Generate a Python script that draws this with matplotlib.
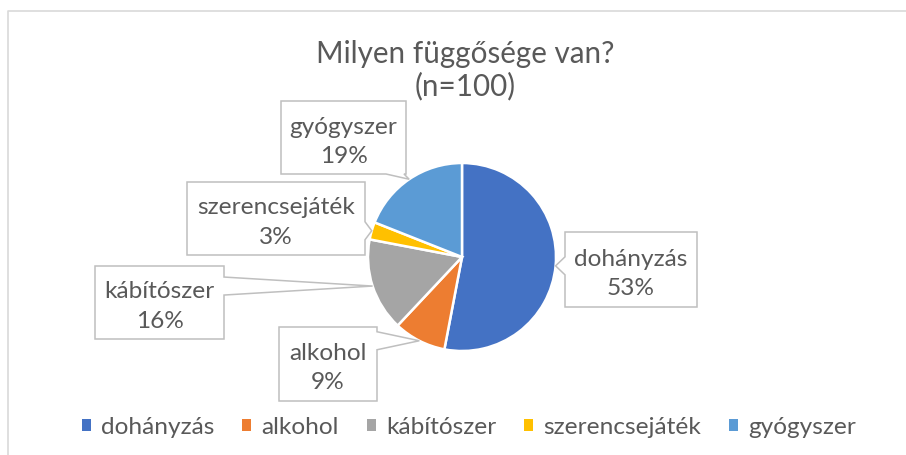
import matplotlib
matplotlib.use('Agg')
import matplotlib.pyplot as plt
import numpy as np
from matplotlib.patches import Polygon, Patch
from matplotlib.lines import Line2D

categories = ['dohányzás', 'alkohol', 'kábítószer', 'szerencsejáték', 'gyógyszer']
values = [53, 9, 16, 3, 19]
colors = ['#4472C4', '#ED7D31', '#A5A5A5', '#FFC000', '#5B9BD5']
title_lines = ['Milyen függősége van?', '(n=100)']

# label box rectangles in image pixels (left, top, right, bottom), same order as categories
label_boxes = [(565, 233, 697, 308), (279, 328, 377, 402), (95, 267, 224, 340),
               (187, 183, 365, 256), (281, 102, 406, 175)]

W, H = 906, 456
TXT = '#595959'
FONT = ['Lato', 'DejaVu Sans']
plt.rcParams['font.family'] = FONT
FS = 17.6

fig = plt.figure(figsize=(W / 100, H / 100), dpi=100)
ax = fig.add_axes([0, 0, 1, 1])
cx, cy, r = 462, H - 258, 94
wedges, _ = ax.pie(values, colors=colors, startangle=90, counterclock=False,
                   center=(cx, cy), radius=r,
                   wedgeprops=dict(edgecolor='white', linewidth=1.8))
ax.set_xlim(0, W)
ax.set_ylim(0, H)
ax.set_aspect('equal')
ax.axis('off')

# chart frame (partially visible)
ax.add_line(Line2D([8, 8, W], [0, H - 12, H - 12], color='#D9D9D9', lw=1.2))

for w, cat, val, box in zip(wedges, categories, values, label_boxes):
    th = np.deg2rad((w.theta1 + w.theta2) / 2)
    tx, ty = cx + r * np.cos(th), cy + r * np.sin(th)
    x0, x1 = box[0], box[2]
    y0, y1 = H - box[3], H - box[1]
    d = {'left': x0 - tx, 'right': tx - x1, 'bottom': y0 - ty, 'top': ty - y1}
    side = max(d, key=d.get)
    hw = 9
    if side in ('left', 'right'):
        c = min(max(ty, y0 + hw + 2), y1 - hw - 2)
    else:
        c = min(max(tx, x0 + hw + 2), x1 - hw - 2)
    a, b = c - hw, c + hw
    pts = [(x0, y0)]
    if side == 'bottom':
        pts += [(a, y0), (tx, ty), (b, y0)]
    pts += [(x1, y0)]
    if side == 'right':
        pts += [(x1, a), (tx, ty), (x1, b)]
    pts += [(x1, y1)]
    if side == 'top':
        pts += [(b, y1), (tx, ty), (a, y1)]
    pts += [(x0, y1)]
    if side == 'left':
        pts += [(x0, b), (tx, ty), (x0, a)]
    ax.add_patch(Polygon(pts, closed=True, facecolor='white', edgecolor='#BFBFBF',
                         lw=1.1, zorder=5))
    mx, my = (x0 + x1) / 2, (y0 + y1) / 2
    ax.text(mx, my + 5, cat, ha='center', va='baseline', fontsize=FS, color=TXT, zorder=6)
    ax.text(mx, my - 24.5, f'{val}%', ha='center', va='baseline', fontsize=FS, color=TXT,
            zorder=6)

ax.text(465, H - 63, title_lines[0], ha='center', va='baseline', fontsize=21.3, color=TXT)
ax.text(465, H - 95, title_lines[1], ha='center', va='baseline', fontsize=21.3, color=TXT)

handles = [Patch(facecolor=c, edgecolor='none') for c in colors]
leg = ax.legend(handles, categories, loc='center', bbox_to_anchor=(469 / W, 1 - 428 / H),
                ncol=5, frameon=False, fontsize=FS, handlelength=0.37, handleheight=0.37,
                handletextpad=0.41, columnspacing=1.15, labelcolor=TXT,
                borderpad=0, borderaxespad=0)

fig.savefig('out.png', dpi=100, facecolor='white')
